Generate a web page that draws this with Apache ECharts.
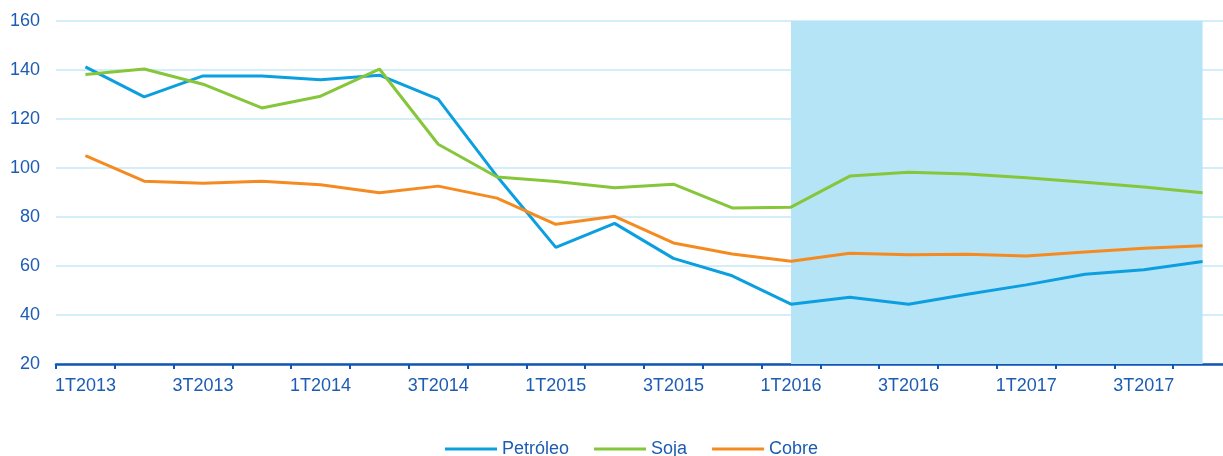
<!DOCTYPE html>
<html>
<head>
<meta charset="utf-8">
<script src="https://cdn.jsdelivr.net/npm/echarts@6/dist/echarts.min.js"></script>
<style>
  html, body { margin: 0; padding: 0; background: #fff; }
  #chart { width: 1223px; height: 456px; }
</style>
</head>
<body>
<div id="chart"></div>
<script>
// trimestres
const quarters = [
  '1T2013', '2T2013', '3T2013', '4T2013',
  '1T2014', '2T2014', '3T2014', '4T2014',
  '1T2015', '2T2015', '3T2015', '4T2015',
  '1T2016', '2T2016', '3T2016', '4T2016',
  '1T2017', '2T2017', '3T2017', '4T2017'
]

const petroleo = [141.3, 129, 137.6, 137.6, 136, 137.9, 128.1, 96.6, 67.6, 77.4,
  63.1, 56, 44.4, 47.2, 44.4, 48.5, 52.3, 56.6, 58.5, 61.8]
const soja = [138.2, 140.4, 134.2, 124.5, 129.3, 140.4, 109.7, 96.3, 94.5, 91.9,
  93.4, 83.7, 84, 96.7, 98.3, 97.6, 96, 94.2, 92.2, 89.9]
const cobre = [105.1, 94.6, 93.8, 94.6, 93.2, 89.9, 92.6, 87.7, 77, 80.3,
  69.4, 64.9, 61.9, 65.2, 64.6, 64.8, 64.1, 65.7, 67.2, 68.3]

// periodo de projeção (faixa sombreada)
const shadeFrom = '1T2016'
const shadeTo = '4T2017'

const textColor = '#1d5cb4'
const chart = echarts.init(document.getElementById('chart'))

const option = {
  animation: false,
  textStyle: { fontFamily: 'Liberation Sans, Arial, sans-serif' },
  grid: {
    left: 56,
    top: 21,
    width: 1176,
    height: 343,
    outerBoundsMode: 'none',
    containLabel: false
  },
  legend: {
    left: 440,
    top: 435,
    icon: 'rect',
    itemWidth: 52,
    itemHeight: 3,
    itemGap: 25,
    textStyle: { color: textColor, fontSize: 18 },
    data: ['Petróleo', 'Soja', 'Cobre']
  },
  xAxis: {
    type: 'category',
    data: quarters,
    boundaryGap: true,
    axisLine: { lineStyle: { color: '#1255b5', width: 2.5 } },
    axisTick: { show: true, length: 5, interval: 0, lineStyle: { color: '#1255b5', width: 2 } },
    axisLabel: { color: textColor, fontSize: 18, interval: 1, margin: 13 },
    splitLine: { show: false }
  },
  yAxis: {
    type: 'value',
    min: 20,
    max: 160,
    interval: 20,
    axisLine: { show: false },
    axisTick: { show: false },
    axisLabel: { color: textColor, fontSize: 18, margin: 16 },
    splitLine: { lineStyle: { color: '#d3edf9', width: 2 } }
  },
  series: [
    {
      name: 'Petróleo',
      type: 'line',
      data: petroleo,
      symbol: 'none',
      lineStyle: { color: '#0c9fe0', width: 3 },
      itemStyle: { color: '#0c9fe0' },
      markArea: {
        silent: true,
        itemStyle: { color: '#b5e4f7' },
        data: [[{ xAxis: shadeFrom }, { xAxis: shadeTo }]]
      }
    },
    {
      name: 'Soja',
      type: 'line',
      data: soja,
      symbol: 'none',
      lineStyle: { color: '#86c63a', width: 3 },
      itemStyle: { color: '#86c63a' }
    },
    {
      name: 'Cobre',
      type: 'line',
      data: cobre,
      symbol: 'none',
      lineStyle: { color: '#f58b20', width: 3 },
      itemStyle: { color: '#f58b20' }
    }
  ]
}

chart.setOption(option)
</script>
</body>
</html>
